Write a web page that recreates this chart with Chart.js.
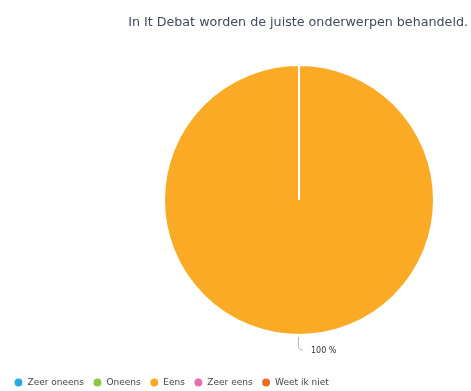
<!DOCTYPE html>
<html lang="nl">
<head>
<meta charset="UTF-8">
<title>It Debat</title>
<script src="https://cdn.jsdelivr.net/npm/chart.js"></script>
<style>
  html, body { margin: 0; padding: 0; background: #fff; }
  .grafiek { width: 471px; height: 391px; }
</style>
</head>
<body>
<div class="grafiek"><canvas id="myChart"></canvas></div>
<script>
const titel = "In It Debat worden de juiste onderwerpen behandeld.";
const labels = ["Zeer oneens", "Oneens", "Eens", "Zeer eens", "Weet ik niet"];
const waarden = [0, 0, 100, 0, 0];
const kleuren = ["#25a9e0", "#8dc63f", "#fbaa25", "#e76db3", "#f26722"];

const lettertype = "'DejaVu Sans', sans-serif";

// taart rechts van het midden plaatsen, legenda blijft over de hele breedte
const taartVak = {
  id: "taartVak",
  afterLayout(chart) {
    const a = chart.chartArea;
    a.left = 163; a.right = 435;
    a.top = 64; a.bottom = 336;
    a.width = a.right - a.left;
    a.height = a.bottom - a.top;
    chart.legend.top += 6;
    chart.legend.left += 5;
  }
};

// label met lijntje onder de taartpunt
const labelPlugin = {
  id: "labelPlugin",
  afterDatasetsDraw(chart) {
    const ctx = chart.ctx;
    const meta = chart.getDatasetMeta(0);
    meta.data.forEach((arc, i) => {
      if (!waarden[i]) return;
      const mid = (arc.startAngle + arc.endAngle) / 2;
      const x0 = arc.x + Math.cos(mid) * arc.outerRadius;
      const y0 = arc.y + Math.sin(mid) * arc.outerRadius;
      ctx.save();
      ctx.strokeStyle = "#bbb";
      ctx.lineWidth = 1;
      ctx.beginPath();
      ctx.moveTo(x0 - 0.5, y0 + 2);
      ctx.lineTo(x0 - 0.5, y0 + 11);
      ctx.quadraticCurveTo(x0 - 0.5, y0 + 15, x0 + 4, y0 + 15);
      ctx.stroke();
      ctx.fillStyle = "#333";
      ctx.font = "8px " + lettertype;
      ctx.textBaseline = "middle";
      ctx.fillText(waarden[i] + " %", x0 + 12, y0 + 16);
      ctx.restore();
    });
  }
};

new Chart(document.getElementById("myChart"), {
  type: "pie",
  data: {
    labels: labels,
    datasets: [{
      data: waarden,
      backgroundColor: kleuren,
      borderColor: "#fff",
      borderWidth: 2
    }]
  },
  options: {
    responsive: true,
    maintainAspectRatio: false,
    animation: false,
    layout: { padding: { left: 0, right: 3, top: 0, bottom: 0 } },
    plugins: {
      title: {
        display: true,
        text: titel,
        align: "end",
        color: "#3d4b5e",
        font: { family: lettertype, size: 12.7, weight: "normal" },
        padding: { top: 15, bottom: 10 }
      },
      legend: {
        position: "bottom",
        align: "start",
        labels: {
          usePointStyle: true,
          pointStyle: "circle",
          boxWidth: 9,
          boxHeight: 7,
          padding: 9,
          color: "#444",
          font: { family: lettertype, size: 9 },
          generateLabels(chart) {
            const items = Chart.controllers.pie.overrides.plugins.legend.labels.generateLabels(chart);
            items.forEach(it => { it.hidden = false; });
            return items;
          }
        }
      },
      tooltip: { enabled: false }
    }
  },
  plugins: [taartVak, labelPlugin]
});
</script>
</body>
</html>
